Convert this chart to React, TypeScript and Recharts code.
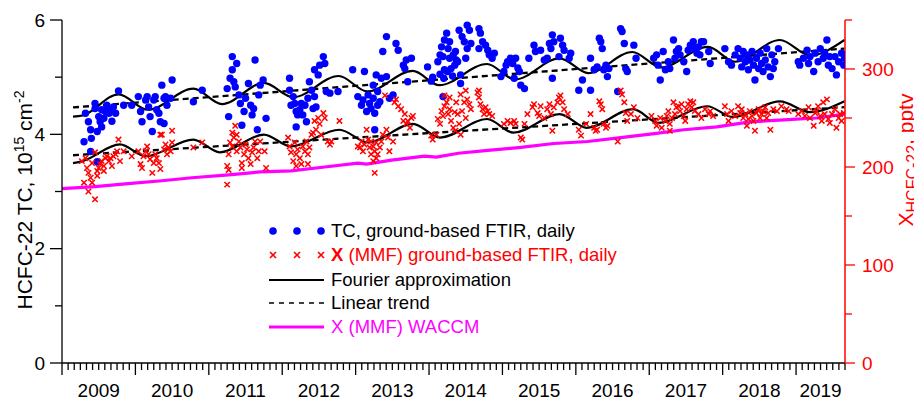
import { ComposedChart, Scatter, Line, XAxis, YAxis } from "recharts";

// axis values
const YEARS = [2009, 2010, 2011, 2012, 2013, 2014, 2015, 2016, 2017, 2018, 2019];
const X_START = 2009;
const X_END = 2019 + 8 / 12;
const TC_TICKS = [0, 1, 2, 3, 4, 5, 6];
const TC_LABELS = [0, 2, 4, 6];
const MMF_TICKS = [0, 50, 100, 150, 200, 250, 300, 350];
const MMF_LABELS = [0, 100, 200, 300];

// total column, daily (year, 10^15 cm^-2)
const TC_DAILY: [number, number][] = [
  [2009.30, 3.87], [2009.32, 4.37], [2009.36, 4.22], [2009.39, 4.08], [2009.40, 3.93], [2009.39, 3.70], [2009.48, 3.52],
  [2009.45, 4.54], [2009.48, 4.05], [2009.50, 4.31], [2009.52, 4.22], [2009.54, 4.43], [2009.57, 4.28], [2009.59, 4.40],
  [2009.61, 4.51], [2009.64, 4.37], [2009.66, 4.45], [2009.68, 4.23], [2009.70, 4.48], [2009.73, 4.37], [2009.77, 4.76],
  [2009.84, 4.51], [2009.54, 4.13], [2009.45, 4.45],
  [2009.95, 4.51], [2010.04, 4.66], [2010.07, 4.40], [2010.09, 4.22], [2010.14, 4.60], [2010.16, 4.66], [2010.18, 4.48],
  [2010.20, 4.31], [2010.23, 4.05], [2010.25, 4.60], [2010.27, 4.66], [2010.29, 4.43], [2010.32, 4.37], [2010.34, 4.22],
  [2010.36, 4.86], [2010.39, 4.63], [2010.41, 4.66], [2010.43, 4.51], [2010.48, 4.63], [2010.50, 4.95], [2010.39, 4.19],
  [2010.79, 4.57], [2010.91, 4.77],
  [2011.25, 4.80], [2011.27, 4.31], [2011.29, 4.98], [2011.32, 5.36], [2011.32, 5.13], [2011.34, 4.92], [2011.36, 4.83],
  [2011.38, 5.24], [2011.41, 4.69], [2011.43, 4.54], [2011.45, 4.16], [2011.48, 4.40], [2011.50, 4.63], [2011.54, 4.89],
  [2011.57, 4.51], [2011.59, 4.34], [2011.61, 4.45], [2011.63, 5.30], [2011.66, 4.08], [2011.68, 4.69], [2011.70, 4.86],
  [2011.74, 4.95], [2011.78, 4.28],
  [2012.10, 4.98], [2012.10, 4.77], [2012.12, 4.51], [2012.15, 4.66], [2012.17, 4.54], [2012.19, 4.40], [2012.21, 4.34],
  [2012.24, 4.43], [2012.26, 4.54], [2012.28, 4.34], [2012.31, 4.51], [2012.35, 4.63], [2012.37, 4.92], [2012.40, 4.77],
  [2012.42, 4.45], [2012.44, 4.66], [2012.46, 4.48], [2012.44, 5.13], [2012.49, 5.04], [2012.51, 5.21], [2012.56, 5.36],
  [2012.58, 5.24], [2012.60, 4.75], [2012.65, 4.72], [2012.19, 4.13], [2012.33, 4.22], [2012.76, 4.75],
  [2012.96, 5.13], [2013.03, 4.66], [2013.08, 4.51], [2013.10, 4.60], [2013.12, 5.10], [2013.15, 4.40], [2013.17, 4.69],
  [2013.19, 4.54], [2013.21, 4.45], [2013.24, 4.63], [2013.26, 4.37], [2013.28, 5.04], [2013.30, 4.75], [2013.33, 4.57],
  [2013.24, 4.86], [2013.30, 4.51], [2013.35, 4.98], [2013.37, 5.45], [2013.42, 5.01], [2013.42, 5.71], [2013.46, 4.63],
  [2013.51, 4.69], [2013.55, 5.59], [2013.58, 5.47], [2013.26, 4.08], [2013.65, 5.21], [2013.67, 5.15], [2013.69, 5.30],
  [2013.76, 5.33], [2013.71, 4.92], [2013.98, 5.18], [2014.03, 4.93],
  [2014.12, 5.27], [2014.15, 5.39], [2014.17, 5.53], [2014.19, 5.36], [2014.21, 5.65], [2014.24, 5.77], [2014.26, 5.50],
  [2014.28, 5.33], [2014.30, 5.15], [2014.33, 5.39], [2014.35, 5.21], [2014.37, 5.30], [2014.19, 4.66], [2014.21, 5.13],
  [2014.28, 5.62], [2014.15, 5.05], [2014.20, 4.98], [2014.25, 5.10], [2014.32, 5.02], [2014.05, 5.00],
  [2014.41, 5.82], [2014.45, 5.71], [2014.52, 5.91], [2014.55, 5.82], [2014.48, 5.62], [2014.52, 5.50], [2014.57, 5.59],
  [2014.50, 5.33], [2014.39, 5.27], [2014.43, 5.04], [2014.36, 5.45], [2014.68, 5.85], [2014.70, 5.77], [2014.73, 5.62],
  [2014.77, 5.56], [2014.80, 5.47], [2014.68, 5.50], [2014.82, 5.39], [2014.86, 5.33], [2014.89, 5.42], [2014.43, 4.89],
  [2014.98, 5.01],
  [2015.05, 5.21], [2015.07, 5.27], [2015.11, 5.33], [2015.14, 5.24], [2015.18, 5.33], [2015.23, 5.10], [2015.25, 4.86],
  [2015.30, 4.80], [2015.36, 5.33], [2015.43, 5.56], [2015.45, 5.45], [2015.52, 5.47], [2015.57, 5.30], [2015.61, 5.33],
  [2015.64, 5.59], [2015.68, 5.74], [2015.70, 5.62], [2015.66, 5.50], [2015.68, 4.98], [2015.79, 5.68], [2015.82, 5.56],
  [2015.84, 5.47], [2015.77, 5.36], [2015.91, 5.33], [2015.93, 5.42], [2015.02, 5.10], [2015.16, 4.98], [2015.21, 5.16],
  [2016.04, 4.77], [2016.09, 4.95], [2016.20, 4.77], [2016.20, 5.33], [2016.25, 5.13], [2016.32, 5.68], [2016.34, 5.62],
  [2016.36, 5.50], [2016.29, 5.18], [2016.38, 5.13], [2016.41, 5.21], [2016.43, 5.01], [2016.45, 5.15], [2016.57, 4.75],
  [2016.61, 5.85], [2016.63, 5.80], [2016.66, 5.59], [2016.68, 5.15], [2016.70, 5.10], [2016.79, 5.56], [2016.82, 5.33],
  [2017.06, 5.33], [2017.10, 5.39], [2017.12, 5.21], [2017.15, 4.95], [2017.19, 5.45], [2017.22, 5.13], [2017.26, 5.27],
  [2017.28, 5.15], [2017.33, 5.65], [2017.35, 5.33], [2017.37, 5.45], [2017.40, 5.50], [2017.42, 5.39], [2017.47, 5.27],
  [2017.51, 5.10], [2017.53, 5.47], [2017.56, 5.56], [2017.60, 5.62], [2017.62, 5.50], [2017.65, 5.42], [2017.67, 5.53],
  [2017.69, 5.39], [2017.71, 5.62], [2017.74, 5.62], [2017.83, 5.24], [2017.81, 5.45],
  [2018.03, 5.50], [2018.08, 5.27], [2018.12, 5.21], [2018.17, 5.39], [2018.21, 5.50], [2018.24, 5.33], [2018.26, 5.18],
  [2018.28, 5.45], [2018.31, 5.27], [2018.33, 5.39], [2018.35, 5.13], [2018.37, 5.30], [2018.40, 5.45], [2018.42, 5.21],
  [2018.44, 4.95], [2018.46, 5.33], [2018.49, 5.15], [2018.51, 5.42], [2018.53, 5.24], [2018.55, 5.10], [2018.58, 5.30],
  [2018.60, 5.50], [2018.62, 5.18], [2018.65, 5.01], [2018.67, 5.39], [2018.69, 5.15], [2018.71, 5.27], [2018.76, 5.50],
  [2019.03, 5.27], [2019.05, 5.21], [2019.10, 5.33], [2019.15, 5.47], [2019.17, 5.24], [2019.19, 5.36], [2019.24, 5.10],
  [2019.26, 5.42], [2019.30, 5.27], [2019.33, 5.50], [2019.37, 5.33], [2019.39, 5.42], [2019.42, 5.65], [2019.44, 5.21],
  [2019.46, 5.36], [2019.49, 5.15], [2019.53, 5.36], [2019.55, 5.04], [2019.58, 5.27], [2019.62, 5.42], [2019.65, 5.21],
  [2019.66, 5.33],
];

// mixing ratio, daily (year, pptv)
const MMF_DAILY: [number, number][] = [
  [2009.27, 206], [2009.30, 184], [2009.32, 209], [2009.34, 199], [2009.36, 194], [2009.39, 189], [2009.41, 184],
  [2009.36, 175], [2009.45, 167], [2009.48, 191], [2009.45, 215], [2009.50, 199], [2009.52, 203], [2009.54, 206],
  [2009.57, 201], [2009.59, 209], [2009.61, 211], [2009.64, 206], [2009.66, 209], [2009.68, 201], [2009.70, 211],
  [2009.73, 213], [2009.75, 216], [2009.77, 228], [2009.79, 206], [2009.84, 216], [2009.41, 204], [2009.57, 196],
  [2009.48, 196],
  [2009.95, 211], [2010.04, 216], [2010.07, 203], [2010.09, 199], [2010.11, 211], [2010.14, 216], [2010.16, 221],
  [2010.18, 213], [2010.20, 208], [2010.23, 194], [2010.25, 204], [2010.27, 213], [2010.29, 209], [2010.32, 204],
  [2010.34, 198], [2010.36, 233], [2010.39, 218], [2010.41, 223], [2010.43, 213], [2010.45, 220], [2010.48, 216],
  [2010.50, 225], [2010.50, 237], [2010.34, 233], [2010.79, 220], [2010.91, 225],
  [2011.25, 201], [2011.25, 182], [2011.27, 213], [2011.29, 225], [2011.32, 235], [2011.32, 221], [2011.34, 230],
  [2011.36, 242], [2011.38, 216], [2011.41, 226], [2011.43, 220], [2011.45, 204], [2011.48, 213], [2011.50, 223],
  [2011.52, 218], [2011.54, 209], [2011.57, 203], [2011.59, 215], [2011.61, 220], [2011.63, 226], [2011.66, 209],
  [2011.68, 216], [2011.70, 226], [2011.27, 197], [2011.38, 233], [2011.45, 199], [2011.76, 216], [2011.78, 199],
  [2012.08, 230], [2012.10, 221], [2012.12, 215], [2012.15, 206], [2012.17, 225], [2012.19, 213], [2012.21, 218],
  [2012.24, 209], [2012.26, 203], [2012.28, 221], [2012.31, 216], [2012.33, 226], [2012.35, 213], [2012.37, 220],
  [2012.40, 233], [2012.42, 235], [2012.44, 247], [2012.46, 238], [2012.49, 250], [2012.51, 244], [2012.53, 233],
  [2012.56, 255], [2012.58, 250], [2012.62, 226], [2012.65, 223], [2012.67, 226], [2012.78, 247], [2012.35, 203],
  [2012.19, 201],
  [2013.03, 221], [2013.06, 220], [2013.08, 226], [2013.10, 216], [2013.12, 223], [2013.15, 238], [2013.17, 228],
  [2013.19, 220], [2013.21, 213], [2013.24, 221], [2013.26, 216], [2013.28, 225], [2013.30, 213], [2013.33, 220],
  [2013.28, 209], [2013.24, 206], [2013.21, 226], [2013.35, 226], [2013.37, 233], [2013.40, 273], [2013.42, 238],
  [2013.44, 230], [2013.46, 216], [2013.51, 226], [2013.53, 266], [2013.55, 269], [2013.58, 262], [2013.62, 259],
  [2013.65, 247], [2013.67, 254], [2013.69, 244], [2013.71, 247], [2013.74, 240], [2013.76, 250], [2013.78, 252],
  [2013.26, 194],
  [2014.03, 232], [2014.05, 228], [2014.10, 233], [2014.12, 249], [2014.15, 244], [2014.17, 257], [2014.19, 252],
  [2014.21, 262], [2014.24, 266], [2014.26, 254], [2014.28, 259], [2014.30, 247], [2014.33, 240], [2014.35, 256],
  [2014.37, 266], [2014.21, 273], [2014.28, 271],
  [2014.39, 254], [2014.41, 244], [2014.43, 274], [2014.45, 257], [2014.48, 266], [2014.50, 278], [2014.52, 269],
  [2014.55, 264], [2014.57, 259], [2014.50, 250], [2014.43, 233], [2014.36, 237], [2014.66, 276], [2014.68, 271],
  [2014.70, 264], [2014.73, 259], [2014.75, 254], [2014.77, 261], [2014.80, 257], [2014.82, 254], [2014.86, 252],
  [2014.68, 278],
  [2015.02, 244], [2015.07, 247], [2015.11, 245], [2015.16, 247], [2015.18, 244], [2015.25, 230], [2015.27, 228],
  [2015.30, 244], [2015.34, 254], [2015.41, 261], [2015.43, 264], [2015.48, 255], [2015.50, 252], [2015.52, 262],
  [2015.57, 250], [2015.61, 259], [2015.64, 264], [2015.66, 254], [2015.68, 237], [2015.70, 261], [2015.75, 266],
  [2015.77, 271], [2015.79, 273], [2015.82, 266], [2015.84, 259], [2015.89, 254],
  [2016.04, 238], [2016.07, 232], [2016.14, 244], [2016.20, 254], [2016.25, 240], [2016.27, 237], [2016.29, 238],
  [2016.32, 267], [2016.34, 264], [2016.36, 259], [2016.38, 244], [2016.41, 240], [2016.43, 242], [2016.57, 226],
  [2016.61, 278], [2016.63, 274], [2016.66, 266], [2016.68, 255], [2016.70, 247], [2016.75, 254], [2016.79, 261],
  [2016.84, 250],
  [2017.03, 252], [2017.08, 247], [2017.10, 242], [2017.15, 250], [2017.17, 240], [2017.22, 247], [2017.24, 252],
  [2017.26, 257], [2017.28, 244], [2017.31, 250], [2017.33, 266], [2017.35, 254], [2017.37, 261], [2017.40, 262],
  [2017.42, 257], [2017.44, 264], [2017.47, 252], [2017.49, 247], [2017.51, 259], [2017.53, 264], [2017.56, 267],
  [2017.58, 261], [2017.60, 266], [2017.62, 257], [2017.67, 254], [2017.71, 250], [2017.76, 259], [2017.81, 254],
  [2017.83, 257], [2017.87, 252], [2017.28, 237],
  [2018.03, 262], [2018.06, 254], [2018.08, 247], [2018.12, 257], [2018.17, 252], [2018.21, 262], [2018.24, 255],
  [2018.26, 259], [2018.28, 250], [2018.31, 254], [2018.33, 242], [2018.35, 249], [2018.37, 257], [2018.40, 252],
  [2018.42, 247], [2018.44, 237], [2018.46, 255], [2018.49, 259], [2018.51, 250], [2018.53, 254], [2018.55, 257],
  [2018.58, 261], [2018.60, 250], [2018.62, 255], [2018.65, 238], [2018.69, 259], [2018.74, 257], [2018.80, 262],
  [2018.87, 259], [2018.90, 257],
  [2019.03, 254], [2019.08, 257], [2019.12, 252], [2019.17, 261], [2019.19, 250], [2019.24, 242], [2019.26, 255],
  [2019.28, 257], [2019.30, 262], [2019.33, 252], [2019.35, 247], [2019.37, 266], [2019.39, 254], [2019.42, 269],
  [2019.44, 249], [2019.46, 245], [2019.49, 254], [2019.53, 259], [2019.55, 240], [2019.58, 250], [2019.60, 254],
  [2019.62, 247], [2019.65, 255],
];

// Fourier approximations (turning points)
const TC_FOURIER: [number, number][] = [
  [2009.15, 4.31], [2009.28, 4.33], [2009.77, 4.70], [2010.17, 4.43], [2010.79, 4.80], [2011.18, 4.53], [2011.75, 4.90],
  [2012.15, 4.65], [2012.77, 5.02], [2013.16, 4.75], [2013.78, 5.11], [2014.14, 4.86], [2014.79, 5.23], [2015.17, 4.96],
  [2015.78, 5.33], [2016.17, 5.07], [2016.77, 5.44], [2017.16, 5.17], [2017.80, 5.53], [2018.17, 5.27], [2018.78, 5.65],
  [2019.19, 5.38], [2019.66, 5.65],
];
const MMF_FOURIER: [number, number][] = [
  [2009.15, 204], [2009.28, 206], [2009.79, 223], [2010.14, 211], [2010.79, 228], [2011.15, 215], [2011.75, 233],
  [2012.12, 221], [2012.78, 238], [2013.17, 225], [2013.78, 244], [2014.15, 230], [2014.79, 249], [2015.15, 235],
  [2015.78, 254], [2016.15, 240], [2016.78, 259], [2017.13, 245], [2017.79, 262], [2018.14, 251], [2018.78, 267],
  [2019.19, 256], [2019.66, 267],
];
const TC_TREND: [number, number][] = [[2009.15, 4.47], [2019.66, 5.50]];
const MMF_TREND: [number, number][] = [[2009.15, 212], [2019.66, 261]];

// WACCM mixing ratio (pptv)
const WACCM: [number, number][] = [
  [2009.0, 178], [2009.45, 180], [2009.9, 183], [2010.36, 186], [2010.77, 189], [2011.27, 192], [2011.7, 195],
  [2012.12, 196], [2012.58, 200], [2013.03, 204], [2013.15, 203], [2013.49, 207], [2013.94, 211], [2014.1, 210],
  [2014.4, 214], [2014.8, 217], [2015.25, 220], [2015.7, 224], [2016.16, 226], [2016.61, 230], [2017.07, 234],
  [2017.47, 238], [2017.92, 241], [2018.37, 246], [2018.83, 248], [2019.28, 250], [2019.66, 254],
];

const FONT = "'Liberation Sans', Arial, sans-serif";
const BLUE = "#0000ff";
const RED = "#ff0000";
const MAGENTA = "#ff00ff";

const tc = (pts: [number, number][]) => pts.map(([x, v]) => ({ x, tc: v }));
const mmf = (pts: [number, number][]) => pts.map(([x, v]) => ({ x, mmf: v }));

// monthly ticks, year start = long tick, label in middle of each year
const MONTH_TICKS: number[] = [];
const TICK_INFO: { major: boolean; label: string }[] = [];
YEARS.forEach((yr) => {
  const mid = (yr + Math.min(yr + 1, X_END)) / 2;
  for (let m = 0; m < 12; m++) {
    const v = yr + m / 12;
    if (v > X_END + 1e-6) break;
    MONTH_TICKS.push(v);
    TICK_INFO.push({ major: m === 0, label: Math.abs(v - mid) < 1e-6 ? String(yr) : "" });
  }
});

const XTick = (props: any) => {
  const { x, y, payload } = props;
  const i = MONTH_TICKS.findIndex((t) => Math.abs(t - payload.value) < 1e-6);
  const info = TICK_INFO[i] || { major: false, label: "" };
  return (
    <g>
      <line x1={x} x2={x} y1={y} y2={y + (info.major ? 12 : 7)} stroke="#000" strokeWidth={1.3} />
      {info.label && (
        <text x={x} y={y + 34} textAnchor="middle" fontSize={19} fontFamily={FONT} fill="#000">
          {info.label}
        </text>
      )}
    </g>
  );
};

const TcTick = (props: any) => {
  const { x, y, payload } = props;
  const major = TC_LABELS.includes(payload.value);
  return (
    <g>
      <line x1={x - (major ? 12 : 7)} x2={x} y1={y} y2={y} stroke="#000" strokeWidth={1.3} />
      {major && (
        <text x={x - 17} y={y} dy="0.35em" textAnchor="end" fontSize={19} fontFamily={FONT} fill="#000">
          {payload.value}
        </text>
      )}
    </g>
  );
};

const MmfTick = (props: any) => {
  const { x, y, payload } = props;
  const major = MMF_LABELS.includes(payload.value);
  return (
    <g>
      <line x1={x} x2={x + (major ? 10 : 7)} y1={y} y2={y} stroke={RED} strokeWidth={1.3} />
      {major && (
        <text x={x + 17} y={y} dy="0.35em" textAnchor="start" fontSize={19} fontFamily={FONT} fill={RED}>
          {payload.value}
        </text>
      )}
    </g>
  );
};

const BlueDot = (p: any) => <circle cx={p.cx} cy={p.cy} r={3.7} fill={BLUE} />;
const RedCross = (p: any) => {
  const s = 2.7;
  return (
    <g stroke={RED} strokeWidth={1.5}>
      <line x1={p.cx - s} y1={p.cy - s} x2={p.cx + s} y2={p.cy + s} />
      <line x1={p.cx - s} y1={p.cy + s} x2={p.cx + s} y2={p.cy - s} />
    </g>
  );
};

const LEG_X = [273, 297, 321];
const LEG_ROWS = [231, 255, 280, 303, 327];

function Overlay() {
  const cross = (cx: number, cy: number, k: number) => (
    <g key={k} stroke={RED} strokeWidth={1.6}>
      <line x1={cx - 3} y1={cy - 3} x2={cx + 3} y2={cy + 3} />
      <line x1={cx - 3} y1={cy + 3} x2={cx + 3} y2={cy - 3} />
    </g>
  );
  const tx = 331;
  return (
    <svg width={914} height={401} style={{ position: "absolute", left: 0, top: 0, pointerEvents: "none" }} fontFamily={FONT}>
      {LEG_X.map((cx, k) => <circle key={k} cx={cx} cy={LEG_ROWS[0]} r={3.8} fill={BLUE} />)}
      <text x={tx} y={LEG_ROWS[0]} dy="0.35em" fontSize={18.5} fill="#000">TC, ground-based FTIR, daily</text>
      {LEG_X.map((cx, k) => cross(cx, LEG_ROWS[1], k))}
      <text x={tx} y={LEG_ROWS[1]} dy="0.35em" fontSize={18.5} fill={RED}>
        <tspan fontWeight="bold">X</tspan> (MMF) ground-based FTIR, daily
      </text>
      <line x1={269} x2={324} y1={LEG_ROWS[2]} y2={LEG_ROWS[2]} stroke="#000" strokeWidth={2.2} />
      <text x={tx} y={LEG_ROWS[2]} dy="0.35em" fontSize={18.5} fill="#000">Fourier approximation</text>
      <line x1={269} x2={324} y1={LEG_ROWS[3]} y2={LEG_ROWS[3]} stroke="#000" strokeWidth={1.6} strokeDasharray="5 5" />
      <text x={tx} y={LEG_ROWS[3]} dy="0.35em" fontSize={18.5} fill="#000">Linear trend</text>
      <line x1={269} x2={324} y1={LEG_ROWS[4]} y2={LEG_ROWS[4]} stroke={MAGENTA} strokeWidth={3} />
      <text x={tx} y={LEG_ROWS[4]} dy="0.35em" fontSize={18.5} fill={MAGENTA}>X (MMF) WACCM</text>

      <text transform="translate(32,200) rotate(-90)" textAnchor="middle" fontSize={21} fill="#000">
        HCFC-22 TC, 10<tspan dy={-8} fontSize={14}>15</tspan>
        <tspan dy={8}> cm</tspan>
        <tspan dy={-8} fontSize={14}>-2</tspan>
      </text>
      <text transform="translate(913,160) rotate(-90)" textAnchor="middle" fontSize={21} fill={RED}>
        X<tspan dy={5} fontSize={16}>HCFC-22</tspan>
        <tspan dy={-5}>, pptv</tspan>
      </text>
    </svg>
  );
}

export default function App() {
  return (
    <div style={{ position: "absolute", left: 0, top: 0, width: 914, height: 401, background: "#fff", fontFamily: FONT }}>
      <ComposedChart width={914} height={401} margin={{ top: 20, right: 0, bottom: 0, left: 0 }}>
        <XAxis
          dataKey="x"
          type="number"
          domain={[X_START, X_END]}
          ticks={MONTH_TICKS}
          interval={0}
          allowDataOverflow
          height={38}
          tickLine={false}
          tickSize={0}
          tickMargin={0}
          tick={XTick}
          axisLine={{ stroke: "#000", strokeWidth: 1.3 }}
        />
        <YAxis
          yAxisId="tc"
          dataKey="tc"
          type="number"
          domain={[0, 6]}
          ticks={TC_TICKS}
          interval={0}
          allowDataOverflow
          width={62}
          tickLine={false}
          tickSize={0}
          tickMargin={0}
          tick={TcTick}
          axisLine={{ stroke: "#000", strokeWidth: 1.3 }}
        />
        <YAxis
          yAxisId="mmf"
          dataKey="mmf"
          orientation="right"
          type="number"
          domain={[0, 350]}
          ticks={MMF_TICKS}
          interval={0}
          allowDataOverflow
          width={69}
          tickLine={false}
          tickSize={0}
          tickMargin={0}
          tick={MmfTick}
          axisLine={{ stroke: RED, strokeWidth: 1.5 }}
        />
        <Scatter yAxisId="tc" data={tc(TC_DAILY)} dataKey="tc" shape={BlueDot} isAnimationActive={false} />
        <Scatter yAxisId="mmf" data={mmf(MMF_DAILY)} dataKey="mmf" shape={RedCross} isAnimationActive={false} />
        <Line yAxisId="mmf" data={mmf(WACCM)} dataKey="mmf" type="linear" stroke={MAGENTA} strokeWidth={3.2} dot={false} isAnimationActive={false} />
        <Line yAxisId="tc" data={tc(TC_TREND)} dataKey="tc" type="linear" stroke="#000" strokeWidth={2.3} strokeDasharray="6 4" dot={false} isAnimationActive={false} />
        <Line yAxisId="mmf" data={mmf(MMF_TREND)} dataKey="mmf" type="linear" stroke="#000" strokeWidth={2.3} strokeDasharray="6 4" dot={false} isAnimationActive={false} />
        <Line yAxisId="tc" data={tc(TC_FOURIER)} dataKey="tc" type="monotone" stroke="#000" strokeWidth={2.2} dot={false} isAnimationActive={false} />
        <Line yAxisId="mmf" data={mmf(MMF_FOURIER)} dataKey="mmf" type="monotone" stroke="#000" strokeWidth={2.2} dot={false} isAnimationActive={false} />
      </ComposedChart>
      <Overlay />
    </div>
  );
}
